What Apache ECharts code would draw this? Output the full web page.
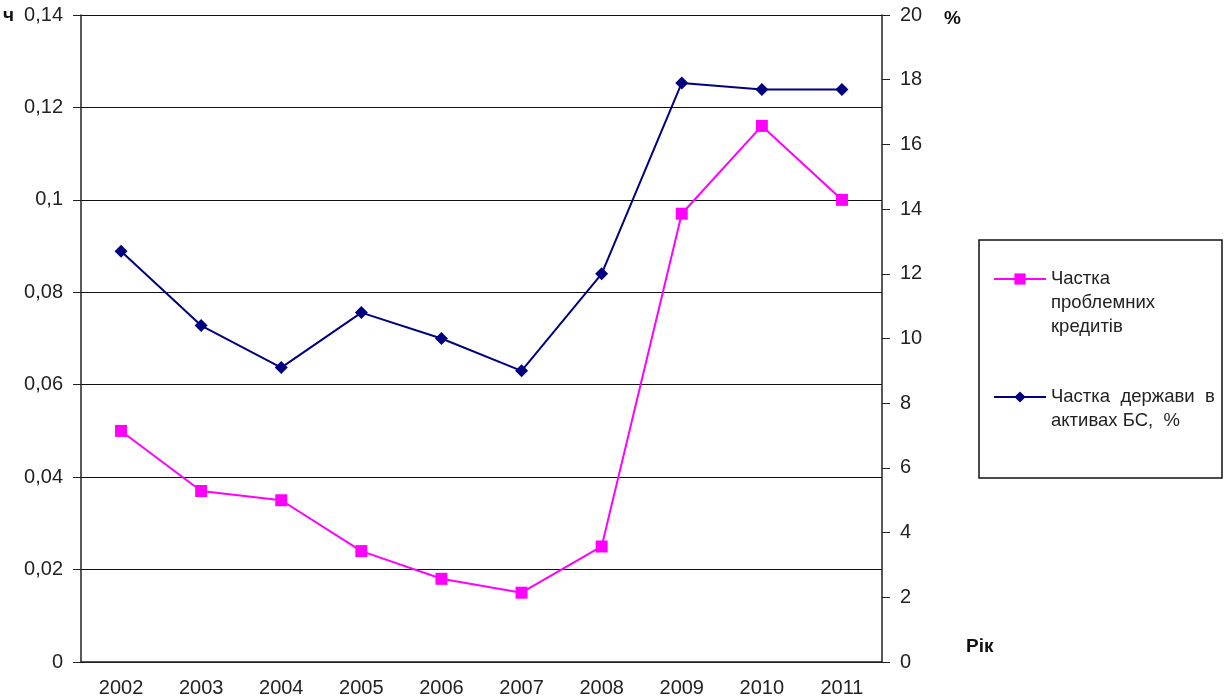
<!DOCTYPE html>
<html>
<head>
<meta charset="utf-8">
<script src="https://cdn.jsdelivr.net/npm/echarts@6/dist/echarts.min.js"></script>
<style>
  html, body { margin: 0; padding: 0; background: #fff; }
  #chart { width: 1225px; height: 698px; }
</style>
</head>
<body>
<div id="chart"></div>
<script>
// years on the x axis
const years = ['2002', '2003', '2004', '2005', '2006', '2007', '2008', '2009', '2010', '2011']
// share of problem loans (left axis)
const problemLoans = [0.050, 0.037, 0.035, 0.024, 0.018, 0.015, 0.025, 0.097, 0.116, 0.100]
// state share in bank assets, % (right axis)
const stateShare = [12.7, 10.4, 9.1, 10.8, 10.0, 9.0, 12.0, 17.9, 17.7, 17.7]

const nameLoans = 'Частка проблемних кредитів'
const nameState = 'Частка держави в активах БС, %'
// leading empty lines keep the icon level with the first text line
const legendText = {
    [nameLoans]: '\n\nЧастка\nпроблемних\nкредитів',
    [nameState]: '\nЧастка  держави  в\nактивах БС,  %'
}

const font = 'Liberation Sans, Arial, sans-serif'
const chart = echarts.init(document.getElementById('chart'))

const legendBase = {
    left: 993,
    padding: 0,
    itemWidth: 52,
    itemHeight: 14,
    formatter: n => legendText[n],
    textStyle: { color: '#222', fontSize: 18.5, lineHeight: 24, fontFamily: font }
}

const option = {
    animation: false,
    textStyle: { fontFamily: font },
    grid: { left: 81, right: 343, top: 15, bottom: 35 },
    xAxis: [
        {
            type: 'category',
            data: years,
            boundaryGap: true,
            axisLine: { lineStyle: { color: '#222', width: 1.5 } },
            axisTick: { length: 8, lineStyle: { color: '#222' } },
            axisLabel: { color: '#222', fontSize: 20, margin: 16 }
        },
        {
            type: 'category',
            data: years,
            position: 'bottom',
            boundaryGap: true,
            axisLine: { show: false },
            axisTick: { inside: true, length: 8, lineStyle: { color: '#222' } },
            axisLabel: { show: false }
        }
    ],
    yAxis: [
        {
            type: 'value',
            min: 0,
            max: 0.14,
            interval: 0.02,
            axisLine: { show: true, lineStyle: { color: '#222', width: 1.5 } },
            axisTick: { show: true, length: 8, lineStyle: { color: '#222' } },
            axisLabel: {
                color: '#222', fontSize: 20, margin: 18,
                formatter: v => (v === 0 ? '0' : String(+v.toFixed(2)).replace('.', ','))
            },
            splitLine: { lineStyle: { color: '#111', width: 1.2 } }
        },
        {
            type: 'value',
            min: 0,
            max: 20,
            interval: 2,
            position: 'right',
            axisLine: { show: true, lineStyle: { color: '#222', width: 1.5 } },
            axisTick: { show: true, length: 8, lineStyle: { color: '#222' } },
            axisLabel: { color: '#222', fontSize: 20, margin: 18 },
            splitLine: { show: false }
        }
    ],
    legend: [
        Object.assign({}, legendBase, { data: [nameLoans], top: 219 }),
        Object.assign({}, legendBase, { data: [nameState], top: 361 })
    ],
    graphic: [
        {
            type: 'rect',
            shape: { x: 979, y: 240, width: 243, height: 238 },
            style: { fill: 'none', stroke: '#111', lineWidth: 1.5 },
            z: -1
        },
        {
            type: 'text', left: 3, top: 6,
            style: { text: 'ч', font: 'bold 19px ' + font, fill: '#111' }
        },
        {
            type: 'text', left: 944, top: 9,
            style: { text: '%', font: 'bold 19px ' + font, fill: '#111' }
        },
        {
            type: 'text', left: 966, top: 637,
            style: { text: 'Рік', font: 'bold 19px ' + font, fill: '#111' }
        }
    ],
    series: [
        {
            name: nameLoans,
            type: 'line',
            yAxisIndex: 0,
            data: problemLoans,
            symbol: 'rect',
            symbolSize: 12,
            lineStyle: { color: '#ff00ff', width: 2 },
            itemStyle: { color: '#ff00ff' }
        },
        {
            name: nameState,
            type: 'line',
            yAxisIndex: 1,
            data: stateShare,
            symbol: 'diamond',
            symbolSize: [13, 13],
            lineStyle: { color: '#000080', width: 2 },
            itemStyle: { color: '#000080' }
        }
    ]
}

chart.setOption(option)
</script>
</body>
</html>
